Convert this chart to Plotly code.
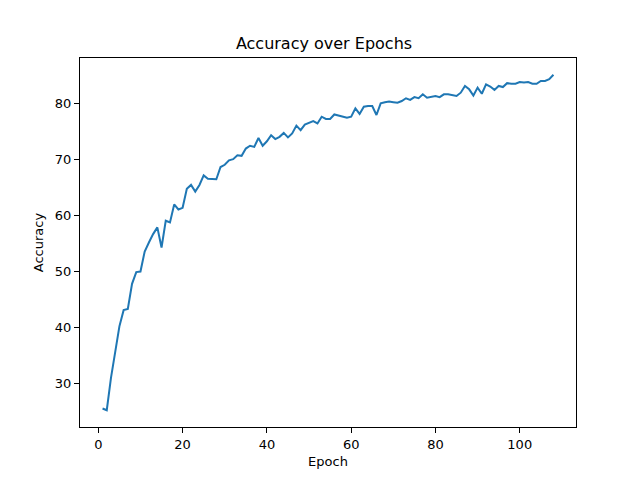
import plotly.graph_objects as go

epochs = list(range(1, 109))
accuracy = [
    25.5, 25.2, 31.0, 35.6, 40.2, 43.1, 43.3, 47.8, 49.9, 50.0,
    53.6, 55.2, 56.7, 57.9, 54.3, 59.1, 58.8, 62.0, 61.1, 61.4,
    64.8, 65.5, 64.3, 65.5, 67.2, 66.6, 66.5, 66.5, 68.7, 69.1,
    69.9, 70.1, 70.8, 70.7, 72.0, 72.5, 72.3, 73.9, 72.5, 73.3,
    74.4, 73.7, 74.1, 74.8, 74.0, 74.7, 76.1, 75.3, 76.3, 76.6,
    76.9, 76.5, 77.7, 77.3, 77.3, 78.1, 77.9, 77.7, 77.5, 77.7,
    79.2, 78.2, 79.5, 79.6, 79.6, 78.0, 80.1, 80.3, 80.4, 80.3,
    80.2, 80.5, 81.0, 80.7, 81.2, 81.0, 81.7, 81.1, 81.2, 81.4,
    81.2, 81.7, 81.7, 81.5, 81.4, 82.0, 83.2, 82.6, 81.5, 82.9,
    81.8, 83.5, 83.1, 82.5, 83.2, 83.0, 83.7, 83.6, 83.6, 83.9,
    83.8, 83.9, 83.6, 83.6, 84.1, 84.1, 84.4, 85.2,
]
x_ticks = [0, 20, 40, 60, 80, 100]
y_ticks = [30, 40, 50, 60, 70, 80]

fig = go.Figure(go.Scatter(x=epochs, y=accuracy, mode="lines",
                           line=dict(color="#1f77b4", width=2)))

axis_common = dict(showline=True, linecolor="black", linewidth=1, mirror=True,
                   ticks="outside", ticklen=5, tickwidth=1, tickcolor="black",
                   showgrid=False, zeroline=False,
                   tickfont=dict(family="DejaVu Sans", size=13, color="black"))

fig.update_layout(
    width=632, height=472,
    margin=dict(l=72, r=64, t=50, b=53),
    plot_bgcolor="white", paper_bgcolor="white",
    showlegend=False,
    font=dict(family="DejaVu Sans", color="black"),
    title=dict(text="Accuracy over Epochs", x=0.5, xanchor="center",
               y=1 - 35 / 472, yanchor="middle", yref="container",
               font=dict(family="DejaVu Sans", size=16, color="black")),
    xaxis=dict(range=[-4.35, 113.35], tickvals=x_ticks,
               title=dict(text="Epoch", standoff=6,
                          font=dict(family="DejaVu Sans", size=13)),
               **axis_common),
    yaxis=dict(range=[22.2, 88.2], tickvals=y_ticks,
               title=dict(text="Accuracy", standoff=8,
                          font=dict(family="DejaVu Sans", size=13)),
               **axis_common),
)

fig.write_html("out.html")
